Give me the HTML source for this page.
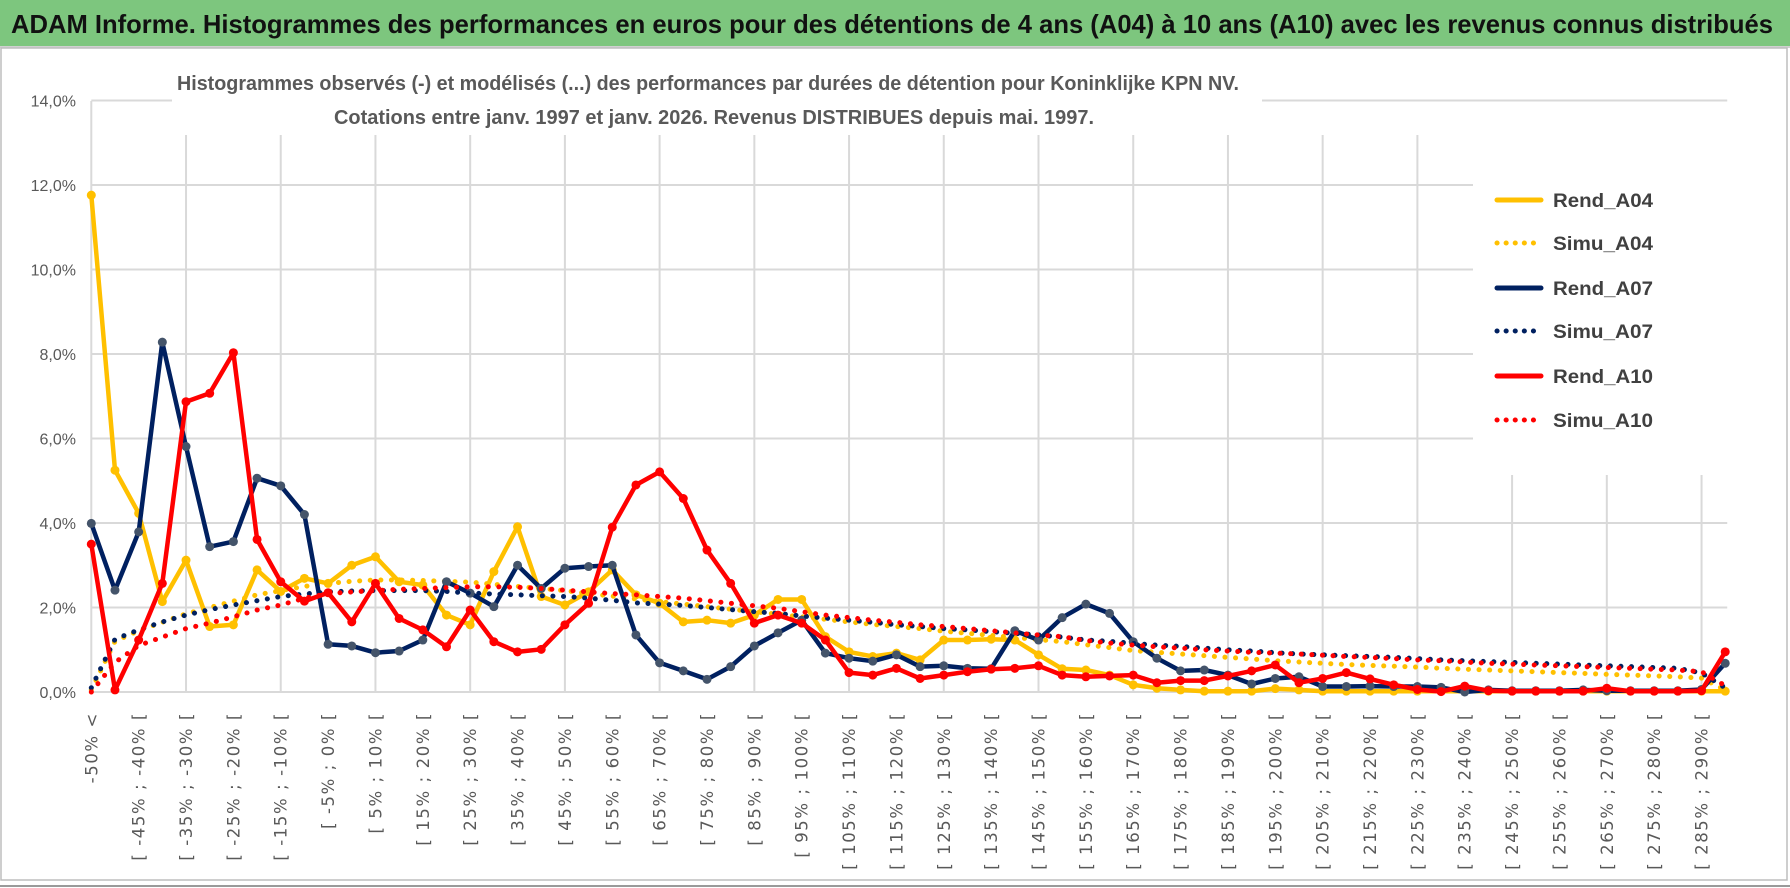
<!DOCTYPE html>
<html><head><meta charset="utf-8"><style>
html,body{margin:0;padding:0;background:#fff;}
svg{display:block;}
</style></head><body>
<svg id="chart" width="1790" height="888" viewBox="0 0 1790 888" xmlns="http://www.w3.org/2000/svg" font-family="'Liberation Sans', sans-serif">
<rect x="0" y="0" width="1790" height="888" fill="#ffffff"/>
<rect x="0" y="0" width="1790" height="46" fill="#7dc67e"/>
<line x1="0" y1="47" x2="1790" y2="47" stroke="#d0d0d0" stroke-width="2"/>
<text x="11" y="33" font-size="26" font-weight="bold" fill="#111" textLength="1762" lengthAdjust="spacingAndGlyphs">ADAM Informe. Histogrammes des performances en euros pour des détentions de 4 ans (A04) à 10 ans (A10) avec les revenus connus distribués</text>
<rect x="1" y="48" width="1786" height="832" fill="none" stroke="#bdbdbd" stroke-width="1.5"/>
<line x1="0" y1="886" x2="1790" y2="886" stroke="#9a9a9a" stroke-width="2"/>
<g id="grid"></g>
<rect x="172" y="60" width="1090" height="75" fill="#fff"/>
<text x="177" y="90" font-size="20" font-weight="bold" fill="#595959" textLength="1062" lengthAdjust="spacingAndGlyphs">Histogrammes observés (-) et modélisés (...) des performances par durées de détention pour Koninklijke KPN NV.</text>
<text x="334" y="124" font-size="20" font-weight="bold" fill="#595959" textLength="760" lengthAdjust="spacingAndGlyphs">Cotations entre janv. 1997 et janv. 2026. Revenus DISTRIBUES depuis mai. 1997.</text>
<rect x="1473" y="120" width="270" height="355" fill="#fff"/>
<g id="axes"></g>
<g id="series"></g>
<g id="legend"></g>
</svg>
<script>
const yTicks = [0, 2, 4, 6, 8, 10, 12, 14];
const categories = [];
categories.push('-50% <');
for (let i = 1; i < 70; i++) { categories.push('[ ' + (-55 + 5 * i) + '% ; ' + (-50 + 5 * i) + '% ['); }

const rendA04 = [11.76,5.25,4.23,2.14,3.12,1.55,1.59,2.89,2.38,2.69,
 2.57,3.0,3.2,2.61,2.53,1.82,1.59,2.85,3.91,2.26,
 2.06,2.37,2.89,2.3,2.1,1.66,1.7,1.63,1.82,2.19,
 2.19,1.31,0.95,0.84,0.92,0.76,1.23,1.23,1.25,1.23,
 0.88,0.55,0.52,0.4,0.17,0.09,0.05,0.02,0.02,0.02,
 0.08,0.05,0.02,0.02,0.02,0.02,0.02,0.02,0.02,0.02,
 0.02,0.02,0.02,0.02,0.02,0.02,0.02,0.02,0.02,0.02];
const simuA04 = [0.05,1.2,1.45,1.65,1.85,2.0,2.15,2.3,2.4,2.5,
 2.57,2.62,2.65,2.65,2.64,2.62,2.6,2.55,2.5,2.45,
 2.4,2.33,2.27,2.2,2.14,2.08,2.02,1.96,1.9,1.84,
 1.78,1.72,1.66,1.6,1.55,1.5,1.44,1.39,1.34,1.29,
 1.24,1.19,1.12,1.05,0.98,0.94,0.9,0.86,0.82,0.78,
 0.74,0.71,0.68,0.65,0.63,0.61,0.59,0.56,0.54,0.52,
 0.5,0.48,0.46,0.44,0.42,0.4,0.38,0.36,0.33,0.05];
const rendA07 = [3.99,2.41,3.79,8.28,5.81,3.44,3.56,5.06,4.88,4.2,
 1.13,1.09,0.93,0.97,1.23,2.61,2.34,2.02,3.0,2.45,
 2.93,2.97,3.0,1.35,0.69,0.5,0.3,0.6,1.09,1.4,
 1.7,0.92,0.8,0.73,0.88,0.6,0.62,0.56,0.55,1.45,
 1.23,1.76,2.08,1.86,1.19,0.8,0.5,0.52,0.4,0.19,
 0.32,0.36,0.13,0.13,0.14,0.13,0.13,0.11,0.0,0.05,
 0.03,0.03,0.03,0.05,0.03,0.03,0.03,0.03,0.06,0.68];
const simuA07 = [0.1,1.25,1.47,1.66,1.82,1.95,2.06,2.16,2.26,2.32,
 2.37,2.39,2.4,2.4,2.4,2.38,2.34,2.32,2.3,2.28,
 2.26,2.22,2.17,2.11,2.08,2.05,2.0,1.95,1.9,1.86,
 1.8,1.75,1.7,1.65,1.59,1.55,1.5,1.47,1.43,1.39,
 1.35,1.3,1.23,1.2,1.15,1.11,1.08,1.04,1.0,0.97,
 0.93,0.9,0.88,0.86,0.84,0.82,0.79,0.76,0.74,0.72,
 0.7,0.68,0.66,0.64,0.62,0.6,0.58,0.56,0.45,0.1];
const rendA10 = [3.5,0.05,1.23,2.57,6.87,7.07,8.03,3.61,2.61,2.15,
 2.35,1.66,2.57,1.74,1.47,1.07,1.94,1.19,0.95,1.01,
 1.59,2.1,3.9,4.9,5.21,4.58,3.36,2.57,1.63,1.82,
 1.63,1.23,0.46,0.4,0.56,0.32,0.4,0.48,0.54,0.56,
 0.62,0.4,0.36,0.38,0.4,0.22,0.27,0.27,0.38,0.5,
 0.64,0.22,0.32,0.46,0.31,0.17,0.06,0.01,0.14,0.03,
 0.02,0.02,0.02,0.02,0.09,0.02,0.02,0.02,0.03,0.95];
const simuA10 = [0,0.7,1.1,1.3,1.5,1.63,1.78,1.94,2.06,2.22,
 2.33,2.37,2.4,2.43,2.45,2.47,2.49,2.49,2.48,2.45,
 2.41,2.37,2.33,2.3,2.26,2.22,2.16,2.1,2.04,1.98,
 1.9,1.82,1.76,1.7,1.65,1.59,1.55,1.5,1.45,1.4,
 1.35,1.31,1.22,1.16,1.11,1.07,1.04,1.0,0.97,0.94,
 0.92,0.9,0.87,0.84,0.82,0.79,0.76,0.74,0.71,0.68,
 0.66,0.64,0.62,0.6,0.58,0.56,0.54,0.52,0.48,0.15];
const seriesNames = ['Rend_A04','Simu_A04','Rend_A07','Simu_A07','Rend_A10','Simu_A10'];

const NS = 'http://www.w3.org/2000/svg';
const X0 = 91.3, XSTEP = 23.68, Y0 = 692, YPER = 42.25;
function xPos(i) { return X0 + XSTEP * i; }
function yPos(v) { return Y0 - v * YPER; }
function mk(tag, attrs, parent) {
  const e = document.createElementNS(NS, tag);
  for (const k in attrs) e.setAttribute(k, attrs[k]);
  parent.appendChild(e);
  return e;
}
const grid = document.getElementById('grid');
const axes = document.getElementById('axes');
const seriesG = document.getElementById('series');
const legend = document.getElementById('legend');
const xEnd = xPos(categories.length - 1) + 2;

yTicks.forEach(t => {
  const l = mk('line', {x1: X0, x2: xEnd, y1: yPos(t), y2: yPos(t), stroke: '#d9d9d9', 'stroke-width': 2}, grid);
  
  
  const tx = mk('text', {x: 76, y: yPos(t) + 6, 'text-anchor': 'end', 'font-size': 16, fill: '#595959'}, axes);
  tx.textContent = t.toFixed(1).replace('.', ',') + '%';
  
  
});
for (let i = 0; i < categories.length; i += 4) {
  const l = mk('line', {x1: xPos(i), x2: xPos(i), y1: i === 0 ? 101 : 135, y2: Y0, stroke: '#d9d9d9', 'stroke-width': 2}, grid);
  
  
}
categories.forEach((c, i) => {
  if (i % 2 !== 0) return;
  const x = xPos(i) + 6, y = 712;
  const tx = mk('text', {x: x, y: y, transform: 'rotate(-90 ' + x + ' ' + y + ')', 'text-anchor': 'end', 'font-size': 16.5, 'letter-spacing': 1.6, fill: '#595959', 'font-family': "'DejaVu Sans', sans-serif"}, axes);
  tx.textContent = c;
  
  
});

function drawSeries(vals, color, markerColor, dotted, name) {
  const pts = vals.map((v, i) => xPos(i).toFixed(1) + ',' + yPos(v).toFixed(1)).join(' ');
  const attrs = {points: pts, fill: 'none', stroke: color, 'stroke-width': dotted ? 5 : 4.5, 'stroke-linejoin': 'round', 'stroke-linecap': 'round'};
  if (dotted) attrs['stroke-dasharray'] = '0.1 10.5';
  const pl = mk('polyline', attrs, seriesG);
  
  
  if (!dotted) {
    vals.forEach((v, i) => {
      const c = mk('circle', {cx: xPos(i), cy: yPos(v), r: 4.5, fill: markerColor}, seriesG);
      
      
    });
  }
}
drawSeries(rendA04, '#ffc000', '#ffc000', false, 'rend-a04');
drawSeries(simuA04, '#ffc000', '#ffc000', true, 'simu-a04');
drawSeries(rendA07, '#002060', '#44546a', false, 'rend-a07');
drawSeries(simuA07, '#002060', '#002060', true, 'simu-a07');
drawSeries(rendA10, '#ff0000', '#ff0000', false, 'rend-a10');
drawSeries(simuA10, '#ff0000', '#ff0000', true, 'simu-a10');

const legColors = ['#ffc000','#ffc000','#002060','#002060','#ff0000','#ff0000'];
const legY = [200, 243, 288, 331, 376, 420];
seriesNames.forEach((n, k) => {
  const g = mk('g', {}, legend);
  
  
  const attrs = {x1: 1497, x2: 1541, y1: legY[k], y2: legY[k], stroke: legColors[k], 'stroke-width': 5, 'stroke-linecap': 'round'};
  if (k % 2 === 1) attrs['stroke-dasharray'] = '0.1 9';
  const l = mk('line', attrs, g);
  
  
  const t = mk('text', {x: 1553, y: legY[k] + 7, 'font-size': 19, 'font-weight': 'bold', fill: '#404040', textLength: 100, lengthAdjust: 'spacingAndGlyphs'}, g);
  t.textContent = n;
  
  
});
</script>
</body></html>
